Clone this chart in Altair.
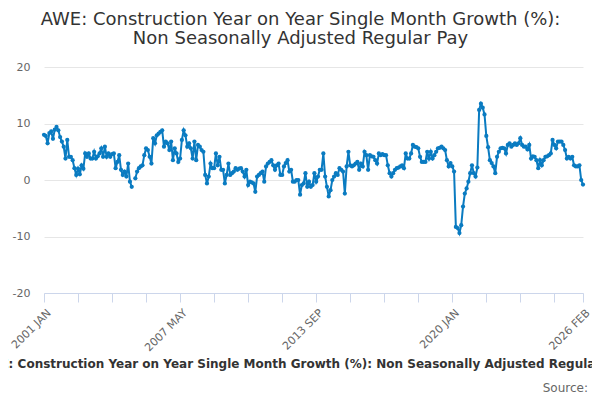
import pandas as pd
import altair as alt

# Monthly series, 2001 JAN .. 2026 FEB (302 months); one gap in 2005 MAR
months = [d.strftime("%Y %b").upper() for d in pd.date_range("2001-01-01", "2026-02-01", freq="MS")]

growth = [
    8.0, 7.8, 6.5, 8.3, 8.6, 7.3, 8.9, 9.4, 8.8, 7.6,
    6.8, 5.9, 3.8, 7.1, 4.1, 4.1, 3.5, 2.1, 0.9, 2.0,
    1.0, 2.6, 2.0, 4.7, 4.1, 4.7, 3.8, 3.8, 5.0, 3.8,
    4.2, 4.7, 5.6, 4.1, 5.9, 4.1, 4.7, 4.1, 4.6, 4.7,
    2.1, 3.2, 4.4, 1.8, 0.9, 1.5, 0.6, 2.9, -0.3, -1.2,
    None, 0.3, 1.5, 2.1, 2.4, 2.6, 4.4, 5.6, 5.3, 4.1,
    2.9, 7.4, 6.5, 7.9, 8.2, 8.5, 8.8, 5.9, 6.8, 6.5,
    5.3, 6.8, 3.5, 5.6, 4.7, 3.2, 3.8, 7.1, 8.8, 7.9,
    5.9, 6.5, 5.6, 3.8, 6.8, 3.5, 6.2, 5.9, 5.3, 5.0,
    0.9, -0.6, 0.6, 2.9, 2.1, 2.1, 4.7, 2.6, 4.1, 1.8,
    1.8, -0.6, 0.9, 2.9, 0.9, 1.2, 1.5, 2.1, 1.8, 2.0,
    2.1, 1.5, 0.6, 1.8, -0.9, -0.3, -0.4, -0.6, -2.1, 0.6,
    0.9, 1.2, 1.5, -0.3, 2.4, 2.9, 3.2, 3.5, 2.6, 1.8,
    2.6, 2.9, 0.9, 0.9, 2.4, 3.0, 3.5, 1.5, 1.8, -0.3,
    -0.3, 0.0, 0.0, -2.6, -0.9, -0.6, 1.2, -1.2, -0.3, -1.2,
    -0.9, 1.2, -0.3, 0.6, 1.8, 1.8, 4.7, 0.6, -1.2, -2.9,
    -1.8, 0.0, 0.6, 1.2, 0.9, 2.1, 1.8, 1.5, -2.4, 2.4,
    5.0, 2.6, 2.4, 2.6, 2.9, 3.2, 1.8, 2.9, 2.4, 5.0,
    4.4, 1.8, 4.4, 4.2, 4.1, 3.5, 2.9, 4.7, 4.4, 4.6,
    4.4, 4.4, 2.6, 1.2, 0.6, 1.2, 1.8, 2.1, 2.2, 2.4,
    2.6, 2.1, 4.7, 3.8, 3.8, 4.7, 6.2, 5.9, 5.8, 5.6,
    4.1, 3.2, 3.2, 3.2, 5.0, 3.8, 5.0, 3.8, 4.4, 5.0,
    5.6, 5.7, 5.9, 5.6, 5.3, 3.5, 2.4, 3.0, 2.4, 1.5,
    -8.3, -8.5, -9.4, -8.0, -4.7, -2.4, -1.5, -0.3, 1.2, 2.6,
    1.2, 0.6, 2.2, 12.4, 13.5, 12.8, 11.6, 7.8, 5.8, 3.5,
    3.0, 2.4, 1.2, 4.1, 5.0, 5.6, 5.7, 5.6, 4.7, 6.2,
    6.5, 5.9, 6.2, 6.5, 6.2, 6.5, 7.4, 6.2, 5.9, 5.9,
    5.4, 6.2, 3.8, 4.2, 4.1, 3.5, 2.1, 3.5, 2.6, 3.5,
    4.1, 4.2, 4.4, 4.7, 7.1, 6.2, 5.6, 6.8, 6.8, 6.8,
    6.2, 5.3, 3.8, 4.1, 3.8, 4.1, 2.6, 2.4, 2.4, 2.6,
    0.0, -0.8,
]

title_lines = ["AWE: Construction Year on Year Single Month Growth (%):",
               "Non Seasonally Adjusted Regular Pay"]
series_name = "AWE: Construction Year on Year Single Month Growth (%): Non Seasonally Adjusted Regular Pay"
source_text = "Source:"

tick_months = months[::19] + [months[-1]]
label_months = ["2001 JAN", "2007 MAY", "2013 SEP", "2020 JAN", "2026 FEB"]
y_ticks = [-20, -10, 0, 10, 20]

df = pd.DataFrame({"month": months, "value": growth})

W, H = 539, 226
blue = "#0a7bc1"

x = alt.X("month:O", sort=None, title=None,
          scale=alt.Scale(type="point", padding=0),
          axis=alt.Axis(values=tick_months,
                        labelExpr="indexof(%s, datum.value) >= 0 ? datum.value : ''" % str(label_months),
                        labelAngle=-45, labelAlign="right", labelBaseline="middle",
                        labelFontSize=11, labelColor="#666666", labelFont="DejaVu Sans",
                        labelPadding=9, labelOffset=5, tickSize=9, tickColor="#ccd6eb",
                        domainColor="#ccd6eb", grid=False, labelOverlap=False))
y = alt.Y("value:Q", title=None,
          scale=alt.Scale(domain=[-20, 20], nice=False),
          axis=alt.Axis(values=y_ticks, labelExpr="'' + datum.value", domain=False, ticks=False,
                        labelFontSize=11, labelColor="#666666", labelFont="DejaVu Sans",
                        labelPadding=14, gridColor="#e6e6e6"))

base = alt.Chart(df)
line = base.mark_line(color=blue, strokeWidth=2).encode(x=x, y=y)
points = base.transform_filter("isValid(datum.value)").mark_circle(
    color=blue, size=18, opacity=1).encode(x=x, y=y)

legend_txt = alt.Chart(pd.DataFrame({"t": [series_name]})).mark_text(
    font="DejaVu Sans", fontSize=12, fontWeight="bold", color="#333333",
    align="center", baseline="middle"
).encode(text="t:N", x=alt.value(260), y=alt.value(297))

source_txt = alt.Chart(pd.DataFrame({"t": [source_text]})).mark_text(
    font="DejaVu Sans", fontSize=12, color="#666666", align="right", baseline="middle"
).encode(text="t:N", x=alt.value(544), y=alt.value(321))

chart = (line + points + legend_txt + source_txt).properties(
    width=W, height=H,
    autosize=alt.AutoSizeParams(type="none"),
    padding={"left": 36, "top": 59, "right": 9, "bottom": 99},
    title=alt.TitleParams(title_lines, font="DejaVu Sans", fontSize=18, fontWeight="normal",
                          color="#333333", anchor="middle", dx=-13, offset=13, lineHeight=19),
).configure_view(stroke=None)

chart.save("out.html", embed_options={"renderer": "svg", "actions": False})
